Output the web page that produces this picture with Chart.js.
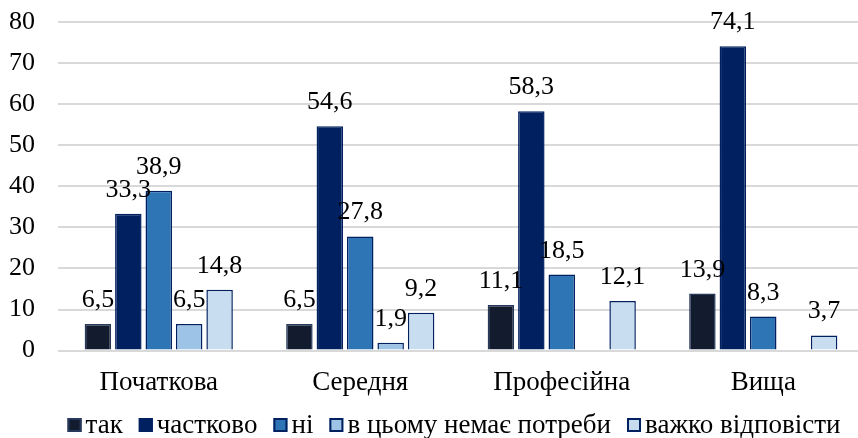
<!DOCTYPE html>
<html>
<head>
<meta charset="utf-8">
<script src="https://cdn.jsdelivr.net/npm/chart.js@4/dist/chart.umd.min.js"></script>
<style>
  html, body { margin: 0; padding: 0; background: #ffffff; overflow: hidden; }
  #wrap { width: 858px; height: 438px; overflow: hidden; }
  #c { display: block; }
</style>
</head>
<body>
<div id="wrap"><canvas id="c" width="864" height="438"></canvas></div>
<script>
const categories = ['Початкова', 'Середня', 'Професійна', 'Вища'];
const seriesNames = ['так', 'частково', 'ні', 'в цьому немає потреби', 'важко відповісти'];
const tak = [6.5, 6.5, 11.1, 13.9];
const chastkovo = [33.3, 54.6, 58.3, 74.1];
const ni = [38.9, 27.8, 18.5, 8.3];
const nemaePotreby = [6.5, 1.9, null, null];
const vazhko = [14.8, 9.2, 12.1, 3.7];
const yTicks = [0, 10, 20, 30, 40, 50, 60, 70, 80];

const fills = ['#131c2e', '#002060', '#2e75b6', '#9dc3e6', '#c9ddf1'];
const borders = ['#26385c', '#002060', '#002060', '#002060', '#002060'];
const seriesData = [tak, chastkovo, ni, nemaePotreby, vazhko];

const FONT = '"Liberation Serif", "Times New Roman", serif';
const NUM_SIZE = 26;
const TEXT_SIZE = 27;

// Value labels above each bar, with a comma as decimal separator
const valueLabels = {
  id: 'valueLabels',
  afterDatasetsDraw(chart) {
    const ctx = chart.ctx;
    ctx.save();
    ctx.font = NUM_SIZE + 'px ' + FONT;
    ctx.fillStyle = '#000000';
    ctx.textAlign = 'center';
    ctx.textBaseline = 'alphabetic';
    chart.data.datasets.forEach((ds, di) => {
      const meta = chart.getDatasetMeta(di);
      meta.data.forEach((bar, i) => {
        const v = ds.data[i];
        if (v === null || v === undefined) return;
        ctx.fillText(String(v).replace('.', ','), bar.x, bar.y - 17);
      });
    });
    ctx.restore();
  }
};

// Compact legend row under the axis: small square swatch, tight gap, then the name
const compactLegend = {
  id: 'compactLegend',
  afterDraw(chart) {
    const ctx = chart.ctx;
    const box = 14, gapText = 4, gapItem = 16, baseline = 433, centerX = 454;
    ctx.save();
    ctx.font = TEXT_SIZE + 'px ' + FONT;
    const items = chart.data.datasets.map(ds => ({
      ds, w: box + gapText + ctx.measureText(ds.label).width
    }));
    const total = items.reduce((s, it) => s + it.w, 0) + gapItem * (items.length - 1);
    let x = centerX - total / 2;
    items.forEach(({ ds, w }) => {
      const top = baseline - 15;
      ctx.fillStyle = ds.backgroundColor;
      ctx.fillRect(x, top, box, box);
      ctx.strokeStyle = ds.borderColor;
      ctx.lineWidth = 2;
      ctx.strokeRect(x + 1, top + 1, box - 2, box - 2);
      ctx.fillStyle = '#000000';
      ctx.textAlign = 'left';
      ctx.textBaseline = 'alphabetic';
      ctx.fillText(ds.label, x + box + gapText, baseline);
      x += w + gapItem;
    });
    ctx.restore();
  }
};

new Chart(document.getElementById('c'), {
  type: 'bar',
  data: {
    labels: categories,
    datasets: seriesNames.map((name, i) => ({
      label: name,
      data: seriesData[i],
      backgroundColor: fills[i],
      borderColor: borders[i],
      borderWidth: 1.5,
      categoryPercentage: 0.755,
      barPercentage: 0.87
    }))
  },
  options: {
    responsive: false,
    animation: false,
    layout: { padding: { left: 9, right: 0, top: 22, bottom: 23 } },
    scales: {
      x: {
        grid: { display: false, drawTicks: false },
        border: { display: false },
        ticks: { color: '#000', font: { family: FONT, size: TEXT_SIZE }, padding: 16, maxRotation: 0 }
      },
      y: {
        min: 0,
        max: 80,
        afterBuildTicks(axis) { axis.ticks = yTicks.map(v => ({ value: v })); },
        afterFit(axis) {
          axis.width = 49;
          axis.paddingTop = 0;
          axis.paddingBottom = 0;
        },
        grid: { color: '#d9d9d9', lineWidth: 2, drawTicks: false },
        border: { display: false },
        ticks: { color: '#000', font: { family: FONT, size: NUM_SIZE }, padding: 23 }
      }
    },
    plugins: {
      legend: { display: false },
      tooltip: { enabled: false }
    }
  },
  plugins: [valueLabels, compactLegend]
});
</script>
</body>
</html>
